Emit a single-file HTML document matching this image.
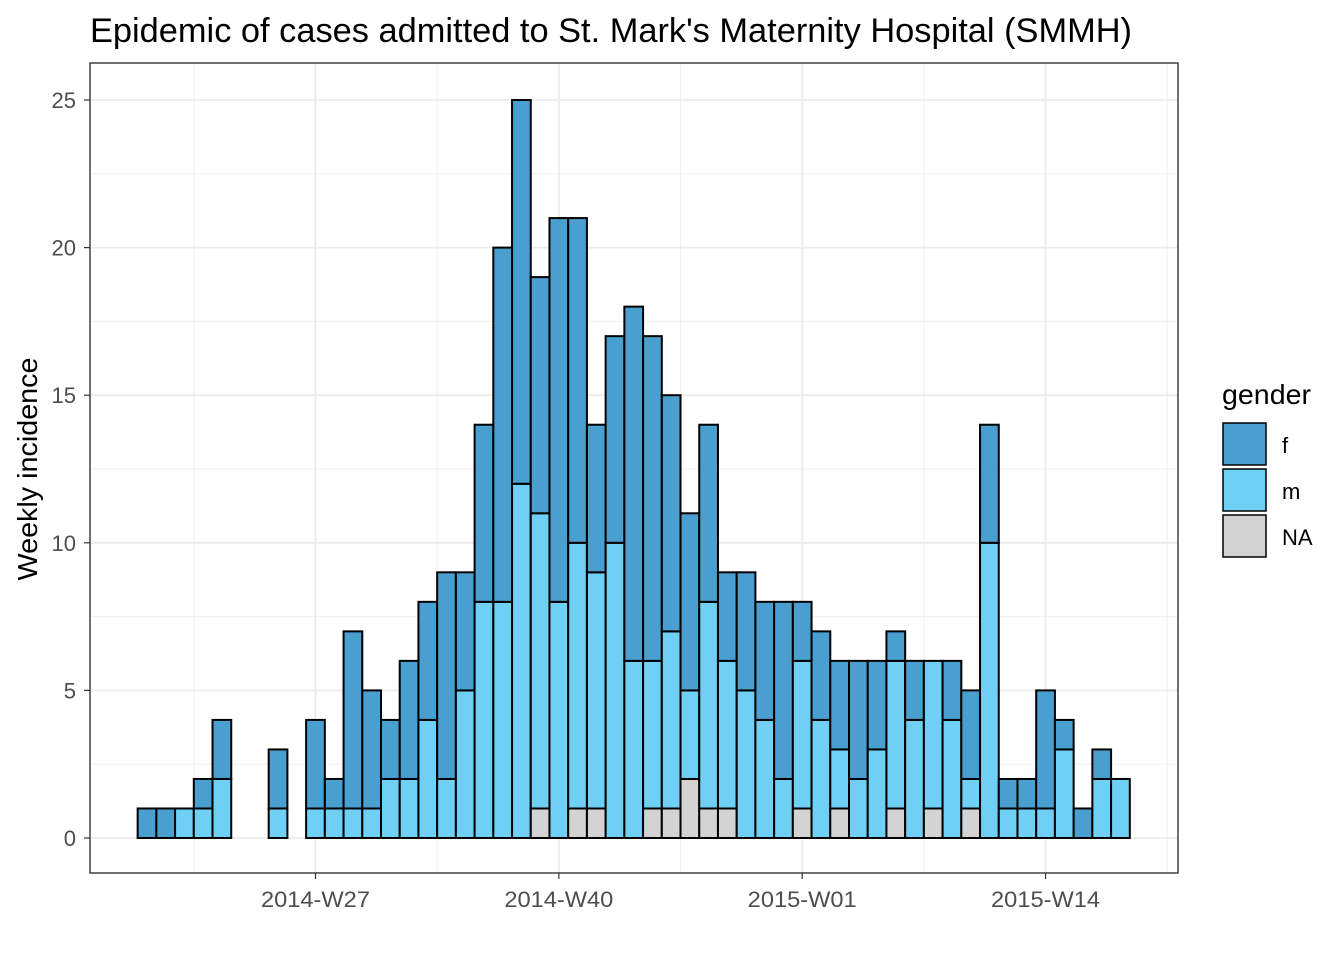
<!DOCTYPE html>
<html><head><meta charset="utf-8"><style>
body{margin:0;background:#fff;font-family:"Liberation Sans",Arial,sans-serif}
svg text{font-family:"Liberation Sans",Arial,sans-serif}
</style></head><body>
<svg id="chart" width="1344" height="960" viewBox="0 0 1344 960" xmlns="http://www.w3.org/2000/svg">
<text x="90" y="42" font-size="34" textLength="1042" lengthAdjust="spacingAndGlyphs" fill="#000">Epidemic of cases admitted to St. Mark's Maternity Hospital (SMMH)</text>
<g id="grid"></g>
<g id="bars"></g>
<rect x="90" y="63" width="1088" height="810" fill="none" stroke="#333" stroke-width="1.4"/>
<g id="axes"></g>
<text transform="translate(37,469) rotate(-90)" text-anchor="middle" font-size="28" textLength="223" lengthAdjust="spacingAndGlyphs" fill="#000">Weekly incidence</text>
<g>
<text x="1222" y="404" font-size="28" textLength="89" lengthAdjust="spacingAndGlyphs">gender</text>
<rect x="1223" y="423" width="43" height="42" fill="#4a9fd1" stroke="#000" stroke-width="1.5"/>
<text x="1282" y="453" font-size="22">f</text>
<rect x="1223" y="469" width="43" height="42" fill="#70cff4" stroke="#000" stroke-width="1.5"/>
<text x="1282" y="499" font-size="22">m</text>
<rect x="1223" y="515" width="43" height="42" fill="#d3d3d3" stroke="#000" stroke-width="1.5"/>
<text x="1282" y="545" font-size="22">NA</text>
</g>
</svg>
<script>
const naCounts=[0,0,0,0,0,0,0,0,0,0,0,0,0,0,0,0,0,0,0,0,0,1,0,1,1,0,0,1,1,2,1,1,0,0,0,1,0,1,0,0,1,0,1,0,1,0,0,0,0,0,0,0,0];
const mCounts=[0,0,1,1,2,0,0,1,0,1,1,1,1,2,2,4,2,5,8,8,12,10,8,9,8,10,6,5,6,3,7,5,5,4,2,5,4,2,2,3,5,4,5,4,1,10,1,1,1,3,0,2,2];
const fCounts=[1,1,0,1,2,0,0,2,0,3,1,6,4,2,4,4,7,4,6,12,13,8,13,11,5,7,12,11,8,6,6,3,4,4,6,2,3,3,4,3,1,2,0,2,3,4,1,1,4,1,1,1,0];
const yTicks=[0,5,10,15,20,25];
const xTickLabels=["2014-W27","2014-W40","2015-W01","2015-W14"];
const xTickIndex=[9,22,35,48];
const NS="http://www.w3.org/2000/svg";
const y0=838,pxU=29.52,x0=147,pxW=18.72,bw=18.72;
const ys=v=>y0-v*pxU, xs=i=>x0+i*pxW;
function mk(t,a,p){const e=document.createElementNS(NS,t);for(const k in a)e.setAttribute(k,a[k]);p.appendChild(e);return e;}
const grid=document.getElementById('grid'),bars=document.getElementById('bars'),axes=document.getElementById('axes');
for(let v=2.5;v<=27;v+=5){const l=mk('line',{x1:90,x2:1178,y1:ys(v),y2:ys(v),stroke:'#f0f0f0','stroke-width':1},grid);}
for(let k=-0.5;k<=xTickIndex.length;k++){const i=xTickIndex[0]+k*13;const l=mk('line',{x1:xs(i),x2:xs(i),y1:63,y2:873,stroke:'#f0f0f0','stroke-width':1},grid);}
yTicks.forEach(v=>{const l=mk('line',{x1:90,x2:1178,y1:ys(v),y2:ys(v),stroke:'#ebebeb','stroke-width':1.8},grid);
const t=mk('line',{x1:84,x2:90,y1:ys(v),y2:ys(v),stroke:'#333','stroke-width':1.2},axes);
const tx=mk('text',{x:76,y:ys(v)+8,'text-anchor':'end','font-size':22,fill:'#4d4d4d'},axes);tx.textContent=v;});
xTickIndex.forEach((i,k)=>{const l=mk('line',{x1:xs(i),x2:xs(i),y1:63,y2:873,stroke:'#ebebeb','stroke-width':1.8},grid);
const t=mk('line',{x1:xs(i),x2:xs(i),y1:873,y2:879,stroke:'#333','stroke-width':1.2},axes);
const tx=mk('text',{x:xs(i),y:907,'text-anchor':'middle','font-size':22,textLength:109,lengthAdjust:'spacingAndGlyphs',fill:'#4d4d4d'},axes);tx.textContent=xTickLabels[k];});
const series=[[naCounts,'#d3d3d3','na'],[mCounts,'#70cff4','m'],[fCounts,'#4a9fd1','f']];
for(let i=0;i<fCounts.length;i++){let base=0;series.forEach(([arr,col,nm])=>{const v=arr[i];if(v>0){const r=mk('rect',{x:xs(i)-bw/2,y:ys(base+v),width:bw,height:v*pxU,fill:col,stroke:'#000','stroke-width':2},bars);}base+=v;});}
</script>
</body></html>
